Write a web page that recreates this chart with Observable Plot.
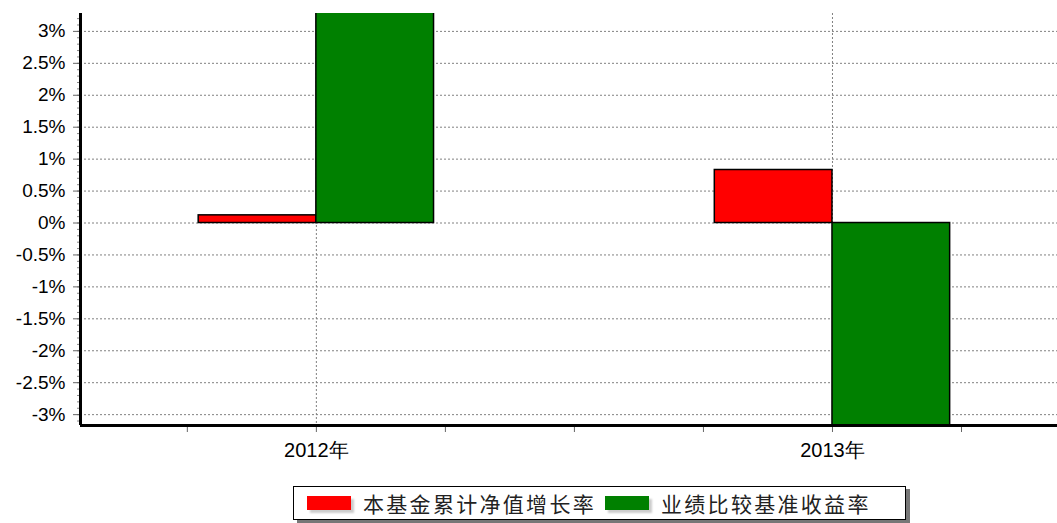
<!DOCTYPE html>
<html>
<head>
<meta charset="utf-8">
<script src="https://cdn.jsdelivr.net/npm/d3@7"></script>
<script src="https://cdn.jsdelivr.net/npm/@observablehq/plot@0.6"></script>
<style>
  html, body { margin: 0; padding: 0; background: #fff; overflow: hidden; }
  #wrap { position: relative; width: 1057px; height: 523px; }
  #legend {
    position: absolute; left: 293px; top: 486px; width: 611px; height: 32px;
    border: 1.5px solid #000; background: #fff;
    box-shadow: 4px 3px 0 #777;
    display: flex; align-items: center;
    font-family: "Noto Sans CJK SC", sans-serif; font-size: 21px; letter-spacing: 2.3px; color: #222;
  }
  .sw { width: 44px; height: 14px; box-shadow: 3px 3px 2px #ccc; flex: none; }
  .item { display: flex; align-items: center; }
</style>
</head>
<body>
<div id="wrap">
  <div id="chart"></div>
  <div id="legend"></div>
</div>
<script>
// ---- data ----
const categories = ["2012年", "2013年"];
const fundGrowth = [0.12, 0.83];        // 本基金累计净值增长率 (%)
const benchmarkReturn = [3.6, -3.6];    // 业绩比较基准收益率 (%) — clipped in the source chart
const seriesNames = ["本基金累计净值增长率", "业绩比较基准收益率"];
const seriesColors = ["#ff0000", "#008000"];
const yTicks = [-3, -2.5, -2, -1.5, -1, -0.5, 0, 0.5, 1, 1.5, 2, 2.5, 3];
const xTicks = [-0.25, 0, 0.25, 0.5, 0.75, 1, 1.25];

// ---- layout ----
const yDomain = [-3.17, 3.28];
const xDomain = [-0.457, 1.436];
const halfBand = 0.228;
const minorTicks = d3.ticks(yDomain[0], yDomain[1], 64);

const rows = categories.map((c, i) => ({cat: c, i, fund: fundGrowth[i], bench: benchmarkReturn[i]}));
const grid = {stroke: "#808080", strokeOpacity: 1, strokeWidth: 1, strokeDasharray: "2,2"};

const chart = Plot.plot({
  width: 1057,
  height: 480,
  marginLeft: 80,
  marginRight: 0,
  marginTop: 13,
  marginBottom: 55,
  style: {fontFamily: "'Liberation Sans', Arial, sans-serif", fontSize: "19px", color: "#000", background: "#fff", overflow: "hidden"},
  x: {type: "linear", domain: xDomain},
  y: {domain: yDomain},
  marks: [
    Plot.gridY(yTicks, grid),
    Plot.ruleX(rows, {x: "i", ...grid}),
    Plot.rect(rows, {x1: d => d.i - halfBand, x2: "i", y1: 0, y2: "fund", fill: seriesColors[0], stroke: "#000", strokeWidth: 1.5, clip: true}),
    Plot.rect(rows, {x1: "i", x2: d => d.i + halfBand, y1: 0, y2: "bench", fill: seriesColors[1], stroke: "#000", strokeWidth: 1.5, clip: true}),
    Plot.axisY(minorTicks, {tickSize: 3, tickFormat: () => "", stroke: "#888", label: null}),
    Plot.axisY(yTicks, {tickSize: 7, tickPadding: 8, tickFormat: d => `${d}%`, stroke: "#666", fill: "#000", fontSize: 19, label: null}),
    Plot.axisX(xTicks, {tickSize: 7, tickPadding: 10, tickFormat: d => Number.isInteger(d) ? categories[d] : "", stroke: "#666", fill: "#000", fontSize: 20, label: null}),
    Plot.ruleX([xDomain[0]], {stroke: "#000", strokeWidth: 3}),
    Plot.ruleY([yDomain[0]], {stroke: "#000", strokeWidth: 3})
  ]
});
document.getElementById("chart").appendChild(chart);

// ---- legend ----
const legend = document.getElementById("legend");
seriesNames.forEach((name, k) => {
  const item = document.createElement("div");
  item.className = "item";
  item.style.marginLeft = k === 0 ? "13px" : "9px";
  const sw = document.createElement("div");
  sw.className = "sw";
  sw.style.background = seriesColors[k];
  sw.style.marginRight = "12px";
  const t = document.createElement("span");
  t.textContent = name;
  item.appendChild(sw);
  item.appendChild(t);
  legend.appendChild(item);
});
</script>
</body>
</html>
